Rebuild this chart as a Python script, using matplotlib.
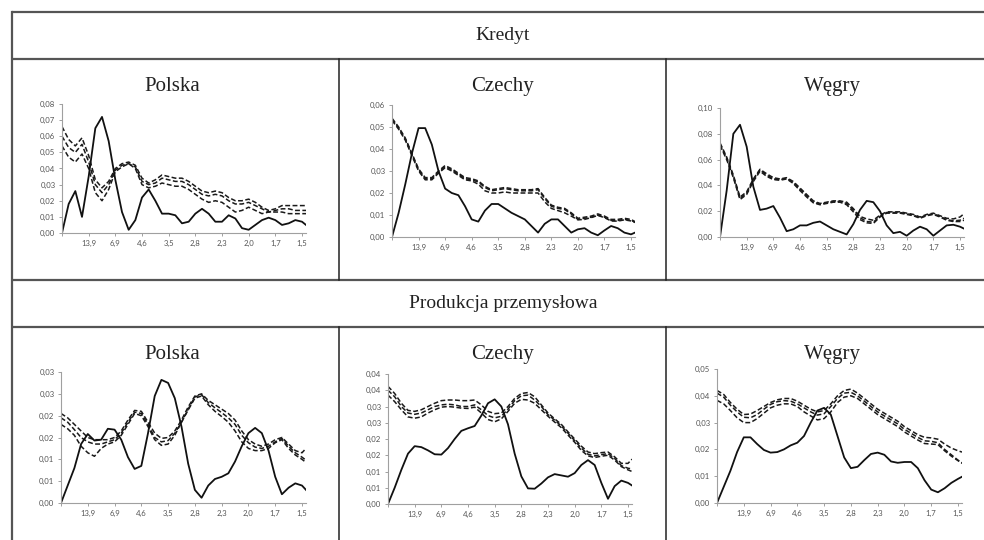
import numpy as np
import matplotlib
matplotlib.use("Agg")
import matplotlib.pyplot as plt

plt.rcParams['font.family'] = ['Lato', 'DejaVu Sans']

# frequency position (1 = period 13.9, 9 = period 1.5)
freq = np.append(np.arange(0, 9.01, 0.25), 9.15)
x_ticks = [1, 2, 3, 4, 5, 6, 7, 8, 9]
x_labels = ["13,9", "6,9", "4,6", "3,5", "2,8", "2,3", "2,0", "1,7", "1,5"]

countries = ["Polska", "Czechy", "Węgry"]
row_titles = ["Kredyt", "Produkcja przemysłowa"]

# --- Kredyt ---
pl_kred = [0, 0.018, 0.026, 0.010, 0.035, 0.065, 0.072, 0.057, 0.033, 0.013, 0.002, 0.008, 0.022, 0.027,
           0.020, 0.012, 0.012, 0.011, 0.006, 0.007, 0.012, 0.015, 0.012, 0.007, 0.007, 0.011, 0.009, 0.003,
           0.002, 0.005, 0.008, 0.0095, 0.008, 0.005, 0.006, 0.008, 0.007, 0.005]
pl_kred_hi = [0.066, 0.058, 0.054, 0.059, 0.048, 0.033, 0.028, 0.032, 0.040, 0.043, 0.044, 0.042, 0.034, 0.031,
              0.033, 0.036, 0.035, 0.034, 0.034, 0.032, 0.029, 0.026, 0.025, 0.026, 0.025, 0.022, 0.020, 0.020,
              0.021, 0.019, 0.016, 0.014, 0.015, 0.017, 0.017, 0.017, 0.017, 0.017]
pl_kred_mid = [0.060, 0.053, 0.050, 0.055, 0.044, 0.030, 0.025, 0.030, 0.039, 0.042, 0.043, 0.041, 0.032, 0.030,
               0.031, 0.034, 0.033, 0.032, 0.032, 0.030, 0.027, 0.024, 0.023, 0.024, 0.023, 0.020, 0.018, 0.018,
               0.019, 0.017, 0.015, 0.013, 0.014, 0.015, 0.015, 0.014, 0.014, 0.014]
pl_kred_lo = [0.054, 0.047, 0.044, 0.049, 0.040, 0.025, 0.020, 0.027, 0.038, 0.041, 0.043, 0.040, 0.030, 0.028,
              0.029, 0.031, 0.030, 0.029, 0.029, 0.027, 0.024, 0.021, 0.019, 0.020, 0.019, 0.016, 0.013, 0.014,
              0.016, 0.014, 0.012, 0.013, 0.013, 0.013, 0.012, 0.012, 0.012, 0.012]

cz_kred = [0, 0.011, 0.024, 0.038, 0.0495, 0.0495, 0.042, 0.030, 0.022, 0.020, 0.019, 0.014, 0.008, 0.007,
           0.012, 0.015, 0.015, 0.013, 0.011, 0.0095, 0.008, 0.005, 0.002, 0.006, 0.008, 0.008, 0.005, 0.002,
           0.0035, 0.004, 0.002, 0.0008, 0.003, 0.005, 0.004, 0.002, 0.0012, 0.002]
cz_kred_hi = [0.054, 0.050, 0.045, 0.038, 0.031, 0.027, 0.027, 0.030, 0.0325, 0.031, 0.029, 0.027, 0.0265, 0.0255,
              0.023, 0.0215, 0.022, 0.0225, 0.022, 0.0215, 0.0215, 0.0215, 0.022, 0.018, 0.0145, 0.0135, 0.013,
              0.011, 0.0085, 0.009, 0.0095, 0.0105, 0.0095, 0.008, 0.008, 0.0085, 0.008, 0.007]
cz_kred_mid = [0.0535, 0.0495, 0.0445, 0.0375, 0.0305, 0.0265, 0.0265, 0.0295, 0.032, 0.0305, 0.0285, 0.0265,
               0.026, 0.025, 0.0225, 0.021, 0.0215, 0.022, 0.0215, 0.021, 0.021, 0.021, 0.0215, 0.0175, 0.014,
               0.013, 0.0125, 0.0105, 0.008, 0.0085, 0.009, 0.010, 0.009, 0.0075, 0.0075, 0.008, 0.0075, 0.0068]
cz_kred_lo = [0.053, 0.049, 0.044, 0.037, 0.030, 0.026, 0.026, 0.029, 0.0315, 0.030, 0.028, 0.026, 0.0255, 0.024,
              0.021, 0.020, 0.020, 0.0205, 0.020, 0.020, 0.020, 0.020, 0.020, 0.016, 0.013, 0.012, 0.011, 0.0095,
              0.0078, 0.008, 0.0088, 0.0098, 0.0088, 0.0073, 0.0072, 0.0078, 0.0073, 0.0066]

hu_kred = [0, 0.036, 0.080, 0.087, 0.070, 0.039, 0.021, 0.022, 0.024, 0.015, 0.0045, 0.006, 0.009, 0.009,
           0.011, 0.012, 0.009, 0.006, 0.004, 0.002, 0.010, 0.021, 0.028, 0.027, 0.020, 0.009, 0.003, 0.004,
           0.001, 0.005, 0.008, 0.006, 0.001, 0.005, 0.009, 0.0095, 0.008, 0.0065]
hu_kred_hi = [0.073, 0.062, 0.048, 0.031, 0.035, 0.045, 0.0525, 0.049, 0.046, 0.045, 0.046, 0.043, 0.038, 0.033,
              0.028, 0.026, 0.027, 0.028, 0.028, 0.027, 0.022, 0.016, 0.014, 0.013, 0.017, 0.0195, 0.0195, 0.0195,
              0.0185, 0.0175, 0.0155, 0.0175, 0.0185, 0.0165, 0.0145, 0.014, 0.0155, 0.018]
hu_kred_mid = [0.072, 0.061, 0.047, 0.030, 0.034, 0.044, 0.052, 0.048, 0.045, 0.0445, 0.0455, 0.042, 0.037, 0.032,
               0.027, 0.0255, 0.0265, 0.0275, 0.0275, 0.026, 0.021, 0.015, 0.012, 0.0115, 0.016, 0.019, 0.019,
               0.019, 0.018, 0.017, 0.015, 0.017, 0.018, 0.016, 0.0135, 0.0125, 0.013, 0.0145]
hu_kred_lo = [0.071, 0.060, 0.046, 0.029, 0.033, 0.043, 0.051, 0.047, 0.0445, 0.044, 0.045, 0.0415, 0.036, 0.031,
              0.0265, 0.025, 0.026, 0.027, 0.027, 0.025, 0.0195, 0.0135, 0.011, 0.0105, 0.0155, 0.0185, 0.0185,
              0.0185, 0.0175, 0.0165, 0.0145, 0.0165, 0.0175, 0.0155, 0.013, 0.012, 0.012, 0.013]

# --- Produkcja przemysłowa ---
pl_prod = [0, 0.004, 0.008, 0.0135, 0.0158, 0.0143, 0.0145, 0.0170, 0.0168, 0.0145, 0.0105, 0.0078, 0.0085,
           0.016, 0.0245, 0.0282, 0.0275, 0.0240, 0.0175, 0.0090, 0.003, 0.0012, 0.004, 0.0055, 0.006, 0.0068,
           0.0095, 0.013, 0.016, 0.0172, 0.016, 0.012, 0.006, 0.002, 0.0035, 0.0045, 0.004, 0.003]
pl_prod_hi = [0.0205, 0.0195, 0.018, 0.0165, 0.015, 0.0145, 0.0145, 0.0145, 0.015, 0.0165, 0.019, 0.0212, 0.021,
              0.0185, 0.016, 0.0148, 0.015, 0.0165, 0.019, 0.022, 0.0245, 0.025, 0.0235, 0.0225, 0.0215, 0.0205,
              0.019, 0.0165, 0.0145, 0.0135, 0.013, 0.0135, 0.0145, 0.015, 0.0135, 0.012, 0.0115, 0.0125]
pl_prod_mid = [0.0195, 0.0185, 0.0168, 0.015, 0.014, 0.0135, 0.0135, 0.014, 0.0145, 0.016, 0.0185, 0.0208, 0.0205,
               0.018, 0.015, 0.014, 0.0143, 0.016, 0.0185, 0.0215, 0.0243, 0.0248, 0.023, 0.0218, 0.0207, 0.0195,
               0.018, 0.0155, 0.0138, 0.0128, 0.0125, 0.013, 0.014, 0.0148, 0.013, 0.0115, 0.0105, 0.0098]
pl_prod_lo = [0.018, 0.017, 0.0155, 0.013, 0.0115, 0.0107, 0.0125, 0.0135, 0.014, 0.0155, 0.018, 0.0205, 0.020,
              0.0175, 0.0145, 0.0132, 0.0135, 0.0155, 0.0185, 0.0213, 0.024, 0.0245, 0.0225, 0.021, 0.0198, 0.0185,
              0.0165, 0.014, 0.0125, 0.012, 0.012, 0.0125, 0.0138, 0.0145, 0.0125, 0.011, 0.010, 0.0093]

cz_prod = [0, 0.005, 0.0105, 0.0155, 0.0178, 0.0175, 0.0165, 0.0153, 0.0152, 0.0172, 0.020, 0.0225, 0.0233,
           0.024, 0.0272, 0.031, 0.0322, 0.030, 0.0245, 0.0155, 0.0085, 0.0048, 0.0047, 0.0063, 0.0082, 0.0092,
           0.0088, 0.0084, 0.0095, 0.012, 0.0135, 0.012, 0.0065, 0.0016, 0.0055, 0.0072, 0.0065, 0.0057]
cz_prod_hi = [0.0362, 0.034, 0.031, 0.0288, 0.0285, 0.029, 0.030, 0.031, 0.0318, 0.032, 0.032, 0.0318, 0.0318,
              0.032, 0.0305, 0.0285, 0.0278, 0.028, 0.030, 0.0325, 0.034, 0.0343, 0.033, 0.0305, 0.028, 0.0262,
              0.0245, 0.0222, 0.020, 0.0178, 0.016, 0.0155, 0.0158, 0.016, 0.0145, 0.0125, 0.0125, 0.0138]
cz_prod_mid = [0.035, 0.033, 0.030, 0.028, 0.0276, 0.028, 0.029, 0.030, 0.0305, 0.0307, 0.0305, 0.030, 0.030,
               0.0305, 0.029, 0.0272, 0.0265, 0.027, 0.0292, 0.0318, 0.0333, 0.0335, 0.032, 0.030, 0.0275, 0.0258,
               0.024, 0.0218, 0.0195, 0.0172, 0.0153, 0.0148, 0.0152, 0.0155, 0.014, 0.0118, 0.011, 0.0108]
cz_prod_lo = [0.0335, 0.0315, 0.029, 0.0268, 0.0264, 0.0268, 0.028, 0.029, 0.0298, 0.030, 0.0298, 0.0295, 0.0294,
              0.0298, 0.028, 0.026, 0.0253, 0.0262, 0.0285, 0.031, 0.0322, 0.032, 0.031, 0.029, 0.027, 0.0252,
              0.0235, 0.0212, 0.019, 0.0165, 0.0148, 0.0143, 0.0147, 0.015, 0.0135, 0.0115, 0.0105, 0.010]

hu_prod = [0, 0.006, 0.012, 0.019, 0.0245, 0.0245, 0.022, 0.0198, 0.0188, 0.019, 0.020, 0.0215, 0.0225, 0.025,
           0.030, 0.0345, 0.0355, 0.033, 0.025, 0.017, 0.013, 0.0135, 0.016, 0.0183, 0.0188, 0.018, 0.0155, 0.015,
           0.0153, 0.0153, 0.013, 0.0085, 0.005, 0.004, 0.0055, 0.0075, 0.009, 0.0098]
hu_prod_hi = [0.042, 0.0405, 0.0375, 0.035, 0.033, 0.0332, 0.0345, 0.036, 0.0375, 0.0385, 0.039, 0.039, 0.038,
              0.0365, 0.035, 0.034, 0.0345, 0.037, 0.040, 0.042, 0.0425, 0.041, 0.039, 0.037, 0.035, 0.0335, 0.032,
              0.0305, 0.0285, 0.027, 0.0255, 0.0245, 0.0243, 0.0238, 0.022, 0.0205, 0.0195, 0.019]
hu_prod_mid = [0.041, 0.0395, 0.0365, 0.034, 0.032, 0.0318, 0.033, 0.035, 0.0368, 0.0378, 0.0382, 0.038, 0.037,
               0.0355, 0.034, 0.0328, 0.0333, 0.036, 0.039, 0.041, 0.0413, 0.040, 0.038, 0.036, 0.034, 0.0325,
               0.031, 0.0295, 0.0275, 0.026, 0.0245, 0.0232, 0.023, 0.0225, 0.020, 0.018, 0.016, 0.015]
hu_prod_lo = [0.0383, 0.037, 0.0345, 0.0318, 0.030, 0.030, 0.0315, 0.0335, 0.0355, 0.0365, 0.037, 0.037, 0.036,
              0.034, 0.0325, 0.031, 0.0315, 0.034, 0.0375, 0.0395, 0.040, 0.039, 0.037, 0.035, 0.033, 0.0315,
              0.030, 0.0285, 0.0265, 0.025, 0.0235, 0.0222, 0.022, 0.0218, 0.0195, 0.0175, 0.0158, 0.0148]

# y axis ticks and labels per panel
yt_pl_kred = [0, 0.01, 0.02, 0.03, 0.04, 0.05, 0.06, 0.07, 0.08]
yl_pl_kred = ["0,00", "0,01", "0,02", "0,03", "0,04", "0,05", "0,06", "0,07", "0,08"]
yt_cz_kred = [0, 0.01, 0.02, 0.03, 0.04, 0.05, 0.06]
yl_cz_kred = ["0,00", "0,01", "0,02", "0,03", "0,04", "0,05", "0,06"]
yt_hu_kred = [0, 0.02, 0.04, 0.06, 0.08, 0.10]
yl_hu_kred = ["0,00", "0,02", "0,04", "0,06", "0,08", "0,10"]
yt_pl_prod = [0, 0.005, 0.01, 0.015, 0.02, 0.025, 0.03]
yl_pl_prod = ["0,00", "0,01", "0,01", "0,02", "0,02", "0,03", "0,03"]
yt_cz_prod = [0, 0.005, 0.01, 0.015, 0.02, 0.025, 0.03, 0.035, 0.04]
yl_cz_prod = ["0,00", "0,01", "0,01", "0,02", "0,02", "0,03", "0,03", "0,04", "0,04"]
yt_hu_prod = [0, 0.01, 0.02, 0.03, 0.04, 0.05]
yl_hu_prod = ["0,00", "0,01", "0,02", "0,03", "0,04", "0,05"]

W, H = 984, 540
fig = plt.figure(figsize=(W / 100, H / 100), dpi=100)

# table frame drawn in pixel coordinates
frame = fig.add_axes([0, 0, 1, 1])
frame.set_xlim(0, W)
frame.set_ylim(H, 0)
frame.axis("off")
lc = "#555555"
col_x = [12, 339, 666, 994]
for y in [12, 59, 280, 327]:
    frame.plot([12, 994], [y, y], color=lc, lw=1.6, solid_capstyle="butt")
frame.plot([12, 12], [12, 545], color=lc, lw=1.6)
for cx in col_x[1:3]:
    frame.plot([cx, cx], [59, 280], color="#222222", lw=1.1)
    frame.plot([cx, cx], [327, 545], color="#222222", lw=1.1)

serif = ["Liberation Serif", "DejaVu Serif"]
frame.text(503, 36, row_titles[0], ha="center", va="center", fontsize=14, family=serif, color="#222222")
frame.text(503, 304, row_titles[1], ha="center", va="center", fontsize=14, family=serif, color="#222222")
centers = [172, 503, 832]
for i, name in enumerate(countries):
    frame.text(centers[i], 91, name, ha="center", va="baseline", fontsize=15, family=serif, color="#222222")
    frame.text(centers[i], 359, name, ha="center", va="baseline", fontsize=15, family=serif, color="#222222")


def rect(left, right, y0, ytop):
    return [left / W, 1 - y0 / H, (right - left) / W, (y0 - ytop) / H]


def panel(box, est, hi, mid, lo, yticks, ylabels):
    ax = fig.add_axes(rect(*box))
    ax.patch.set_alpha(0)
    for s in (hi, mid, lo):
        ax.plot(freq, s, color="#1a1a1a", lw=1.1, ls=(0, (3.2, 1.6)), dash_joinstyle="round")
    ax.plot(freq, est, color="#111111", lw=1.3, solid_joinstyle="round")
    ax.set_xlim(0, 9.15)
    ax.set_ylim(0, yticks[-1])
    ax.set_xticks([0] + x_ticks)
    ax.set_xticklabels([""] + x_labels)
    ax.set_yticks(yticks)
    ax.set_yticklabels(ylabels)
    for side in ("top", "right"):
        ax.spines[side].set_visible(False)
    for side in ("left", "bottom"):
        ax.spines[side].set_color("#a0a0a0")
        ax.spines[side].set_linewidth(0.8)
    ax.tick_params(axis="both", colors="#a0a0a0", labelcolor="#555555", labelsize=5.6,
                   length=2.2, width=0.7, pad=2.5)
    return ax


panel((62, 306, 233, 104), pl_kred, pl_kred_hi, pl_kred_mid, pl_kred_lo, yt_pl_kred, yl_pl_kred)
panel((392, 635, 237, 105), cz_kred, cz_kred_hi, cz_kred_mid, cz_kred_lo, yt_cz_kred, yl_cz_kred)
panel((720, 964, 237, 108), hu_kred, hu_kred_hi, hu_kred_mid, hu_kred_lo, yt_hu_kred, yl_hu_kred)
panel((61, 306, 503, 372), pl_prod, pl_prod_hi, pl_prod_mid, pl_prod_lo, yt_pl_prod, yl_pl_prod)
panel((388, 632, 504, 374), cz_prod, cz_prod_hi, cz_prod_mid, cz_prod_lo, yt_cz_prod, yl_cz_prod)
panel((717, 962, 503, 369), hu_prod, hu_prod_hi, hu_prod_mid, hu_prod_lo, yt_hu_prod, yl_hu_prod)

fig.savefig("out.png", dpi=100, facecolor="white")
